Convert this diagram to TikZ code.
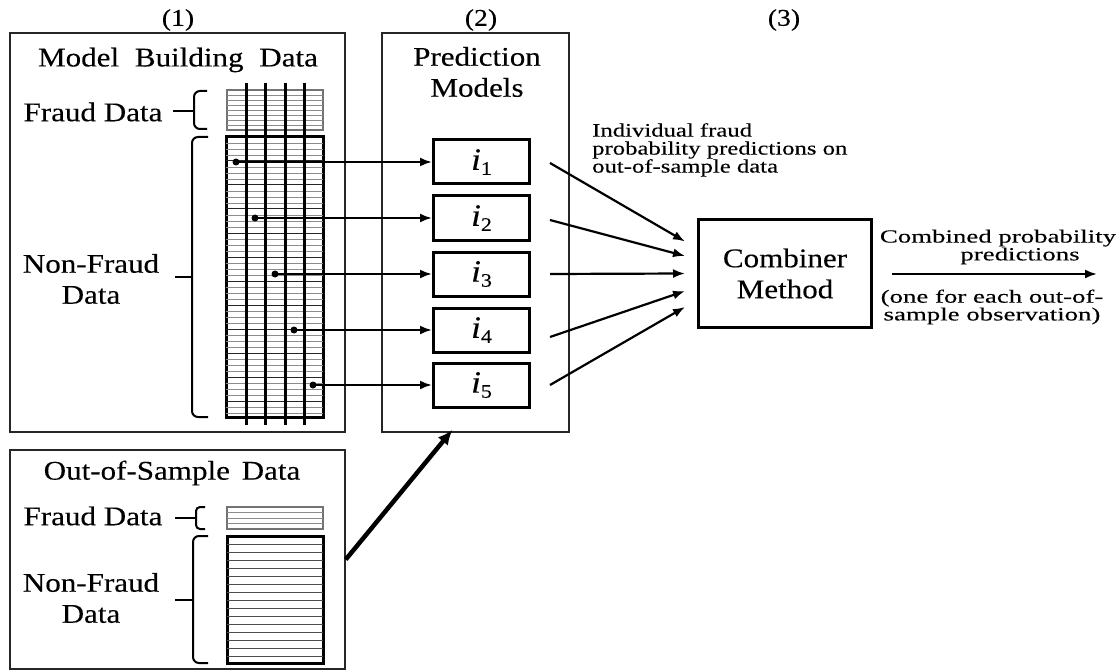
\documentclass[tikz,border=0pt]{standalone}
\usepackage{fontspec}
\setmainfont{Liberation Serif}[FakeStretch=1.15,FakeBold=0.25]
\newfontfamily\notefont{Liberation Serif}[FakeStretch=1.3,FakeBold=0.2]
\newfontfamily\outfont{Liberation Serif}[FakeStretch=1.45,FakeBold=0.2]
\usetikzlibrary{arrows.meta,calc}

\newcommand{\mdl}[1]{{\fontsize{31}{31}\selectfont\itshape i}\raisebox{-5pt}{\fontsize{19}{19}\selectfont #1}}

\begin{document}
\begin{tikzpicture}[x=1pt,y=-1pt,
  lbl/.style={font=\fontsize{27}{31}\selectfont, align=center, inner sep=0pt},
  colnum/.style={font=\fontsize{24}{27}\selectfont, inner sep=0pt},
  frame/.style={draw=black!85, line width=1.5pt, inner sep=0pt},
  model/.style={draw, line width=3pt, minimum width=96pt, minimum height=44pt,
    inner sep=0pt, font=\fontsize{27}{31}\selectfont},
  note/.style={font=\notefont\fontsize{19}{18}\selectfont, align=left, inner sep=0pt},
  outtxt/.style={font=\outfont\fontsize{18.5}{16.5}\selectfont, align=center, inner sep=0pt},
  frgrid/.style={draw=black!55, line width=1.8pt, inner sep=0pt},
  nfgrid/.style={draw, line width=3pt, inner sep=0pt},
  gridl/.style={draw=black!45, line width=0.9pt},
  gridd/.style={draw=black!85, line width=1pt},
  vline/.style={line width=3pt},
  brk/.style={line width=2pt, rounded corners=6pt},
  tick/.style={line width=2pt},
  dot/.style={circle, fill, inner sep=0pt, minimum size=7pt},
  arr/.style={line width=2.2pt, -{Latex[length=12pt,width=9pt]}},
  bigarr/.style={line width=4.5pt, -{Latex[length=15pt,width=13pt]}}
]
\useasboundingbox (0,0) rectangle (1116,671);

% column numbers
\node[colnum] (n1) at (178,20) {(1)};
\node[colnum] (n2) at (481,20) {(2)};
\node[colnum] (n3) at (784,20) {(3)};

% ---------------- model building data ----------------
\node[frame, minimum width=335pt, minimum height=399pt] (mb) at (177.5,232.5) {};
\node[lbl] (mbt) at (178,60) {Model\hspace{8pt} Building\hspace{8pt} Data};

\node[frgrid, minimum width=96pt, minimum height=40pt] (mbf) at (275,110) {};
\foreach \yy in {95,100,...,125}
  \draw[gridl] (227,\yy) -- (323,\yy);

\node[nfgrid, minimum width=97pt, minimum height=280pt] (mbn) at (274.5,277) {};
\foreach \k in {1,...,46}{
  \pgfmathtruncatemacro\m{mod(\k,4)}
  \ifnum\m=0
    \draw[gridd] (226,{137+6*\k}) -- (323,{137+6*\k});
  \else
    \draw[gridl] (226,{137+6*\k}) -- (323,{137+6*\k});
  \fi
}
\foreach \xx in {246,265,285,304}
  \draw[vline] (\xx,83) -- (\xx,425);

\node[lbl] (mbfl) at (93,112) {Fraud Data};
\draw[brk] (207,91) -- (194,91) -- (194,129) -- (207,129);
\draw[tick] (173,111) -- (194,111);

\node[lbl] (mbnl) at (91,279) {Non-Fraud\\Data};
\draw[brk] (208,137) -- (192,137) -- (192,417) -- (208,417);
\draw[tick] (175,277) -- (192,277);

% ---------------- prediction models ----------------
\node[frame, minimum width=187pt, minimum height=399pt] (pm) at (475.5,232.5) {};
\node[lbl] (pmt) at (477,72) {Prediction\\Models};

\node[model] (i1) at (481.5,162) {\mdl{1}};
\node[model] (i2) at (481.5,218) {\mdl{2}};
\node[model] (i3) at (481.5,274) {\mdl{3}};
\node[model] (i4) at (481.5,330) {\mdl{4}};
\node[model] (i5) at (481.5,385) {\mdl{5}};

\node[dot] (d1) at (236,162) {};
\node[dot] (d2) at (255,218) {};
\node[dot] (d3) at (275,274) {};
\node[dot] (d4) at (294,330) {};
\node[dot] (d5) at (313,385) {};

\foreach \k in {1,...,5}
  \draw[arr] (d\k.center) -- (i\k.west);

\node[note, anchor=north west] (ind) at (592,123)
  {Individual fraud\\probability predictions on\\out-of-sample data};

% ---------------- combiner ----------------
\node[model, minimum width=173pt, minimum height=108pt, align=center] (comb) at (785,273.5)
  {Combiner\\Method};

\draw[arr] ($(i1.east)+(19,1)$) -- ($(comb.west)+(-12,-32)$);
\draw[arr] ($(i2.east)+(19,2)$) -- ($(comb.west)+(-12,-17.5)$);
\draw[arr] ($(i3.east)+(19,0)$) -- ($(comb.west)+(-12,0)$);
\draw[arr] ($(i4.east)+(19,7)$) -- ($(comb.west)+(-12,17.5)$);
\draw[arr] ($(i5.east)+(19,0)$) -- ($(comb.west)+(-12,33.5)$);

\coordinate (outend) at (1097,274);
\draw[arr] ($(comb.east)+(19,0.5)$) -- (outend);
\node[outtxt] (cpa) at (998,247) {Combined probability\\\hspace*{44pt}predictions};
\node[outtxt] (cpb) at (992,307) {(one for each out-of-\\sample observation)};

% ---------------- out-of-sample data ----------------
\node[frame, minimum width=335pt, minimum height=219pt] (oos) at (177.5,559.5) {};
\node[lbl] (oost) at (172,473) {Out-of-Sample\hspace{4pt} Data};

\node[frgrid, minimum width=96pt, minimum height=22pt] (oosf) at (275,518) {};
\foreach \yy in {512.5,518,523.5}
  \draw[gridl] (227,\yy) -- (323,\yy);

\node[nfgrid, minimum width=96pt, minimum height=127pt] (oosn) at (275,599.5) {};
\foreach \k in {1,...,15}
  \draw[draw=black!70, line width=1pt] (227,{536+8*\k}) -- (323,{536+8*\k});

\node[lbl] (oosfl) at (93,516) {Fraud Data};
\draw[brk, rounded corners=4pt] (205,507) -- (196,507) -- (196,529) -- (205,529);
\draw[tick] (175,518) -- (196,518);

\node[lbl] (oosnl) at (91,598) {Non-Fraud\\Data};
\draw[brk] (208,536) -- (193,536) -- (193,663) -- (208,663);
\draw[tick] (175,600) -- (193,600);

\draw[bigarr] (oos.east) -- ($(pm.south)+(-23,-3)$);

\end{tikzpicture}
\end{document}
